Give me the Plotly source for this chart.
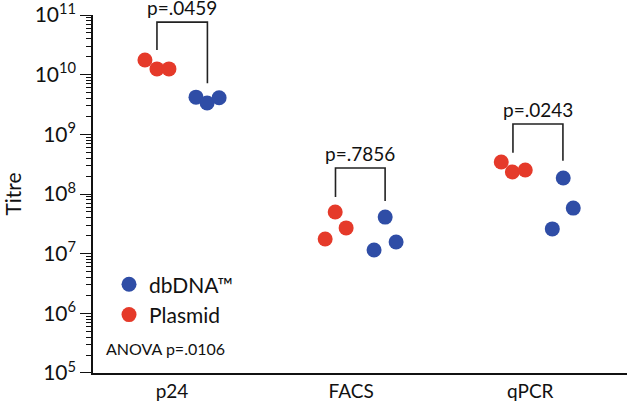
import plotly.graph_objects as go
import numpy as np

categories = ["p24", "FACS", "qPCR"]
plasmid_vals = [[1.76e10, 1.25e10, 1.25e10], [5.0e7, 2.7e7, 1.76e7], [3.44e8, 2.34e8, 2.53e8]]
dbdna_vals = [[4.2e9, 3.35e9, 4.1e9], [4.1e7, 1.57e7, 1.15e7], [1.85e8, 5.8e7, 2.6e7]]
plasmid_jitter = [[-0.151, -0.084, -0.017], [-0.089, -0.028, -0.145], [-0.162, -0.100, -0.028]]
dbdna_jitter = [[0.134, 0.196, 0.263], [0.190, 0.251, 0.128], [0.184, 0.240, 0.123]]
p_values = ["p=.0459", "p=.7856", "p=.0243"]
bracket_top = [7.6e10, 2.73e8, 1.49e9]
bracket_left = [2.6e10, 8.9e7, 4.9e8]
bracket_right = [7.2e9, 7.6e7, 3.6e8]
anova_text = "ANOVA p=.0106"
ytick_exp = [5, 6, 7, 8, 9, 10, 11]

RED = "#E53A2A"
BLUE = "#2F4DA6"
FONT = "Lato"
YRANGE = [4.9995, 11.0005]

fig = go.Figure()
px_, py_, dx_, dy_ = [], [], [], []
for i in range(len(categories)):
    for v, j in zip(plasmid_vals[i], plasmid_jitter[i]):
        px_.append(i + 1 + j); py_.append(v)
    for v, j in zip(dbdna_vals[i], dbdna_jitter[i]):
        dx_.append(i + 1 + j); dy_.append(v)

fig.add_trace(go.Scatter(x=dx_, y=dy_, mode="markers", name="dbDNA™",
                         marker=dict(color=BLUE, size=15), cliponaxis=False))
fig.add_trace(go.Scatter(x=px_, y=py_, mode="markers", name="Plasmid",
                         marker=dict(color=RED, size=15), cliponaxis=False))

for i in range(len(categories)):
    xl = i + 1 + float(np.mean(plasmid_jitter[i]))
    xr = i + 1 + float(np.mean(dbdna_jitter[i]))
    fig.add_trace(go.Scatter(x=[xl, xl, xr, xr],
                             y=[bracket_left[i], bracket_top[i], bracket_top[i], bracket_right[i]],
                             mode="lines", line=dict(color="#222222", width=1.6),
                             showlegend=False, hoverinfo="skip", cliponaxis=False))
    fig.add_annotation(x=(xl + xr) / 2, y=np.log10(bracket_top[i]), text=p_values[i],
                       showarrow=False, yanchor="bottom", yshift=1,
                       font=dict(family=FONT, size=19, color="#111111"))

fig.add_annotation(x=0.02, y=0.068, xref="paper", yref="paper", text=anova_text,
                   showarrow=False, xanchor="left", yanchor="middle",
                   font=dict(family=FONT, size=16, color="#111111"))

# invisible trace to activate the minor-tick overlay axis
fig.add_trace(go.Scatter(x=[None], y=[None], yaxis="y2", showlegend=False, hoverinfo="skip"))

minor_vals = [m * 10 ** e for e in ytick_exp[:-1] for m in range(2, 10)]

fig.update_layout(
    width=630, height=407,
    margin=dict(l=93, r=3, t=15, b=34),
    paper_bgcolor="white", plot_bgcolor="white",
    font=dict(family=FONT, size=19, color="#111111"),
    showlegend=True,
    legend=dict(x=0.03, y=0.304, xanchor="left", yanchor="top",
                font=dict(family=FONT, size=21, color="#111111"),
                bgcolor="rgba(0,0,0,0)", itemwidth=30, tracegroupgap=0),
    xaxis=dict(range=[0.559, 3.54], tickvals=[1, 2, 3], ticktext=categories,
               showline=True, linecolor="#111111", linewidth=1.5,
               ticks="", showgrid=False, zeroline=False, automargin=False,
               tickfont=dict(family=FONT, size=19)),
    yaxis=dict(type="log", range=YRANGE,
               tickvals=[10 ** e for e in ytick_exp],
               ticktext=[f"10<sup>{e}</sup>" for e in ytick_exp],
               showline=True, linecolor="#111111", linewidth=1.5,
               ticks="outside", ticklen=11, tickwidth=1.4, tickcolor="#111111",
               showgrid=False, zeroline=False, automargin=False,
               ticklabeloverflow="allow",
               tickfont=dict(family=FONT, size=21),
               title=dict(text="Titre", font=dict(family=FONT, size=21), standoff=8)),
    yaxis2=dict(type="log", range=YRANGE, overlaying="y", side="left", anchor="x",
                tickmode="array", tickvals=minor_vals, showticklabels=False,
                ticks="outside", ticklen=6, tickwidth=1.2, tickcolor="#111111",
                showgrid=False, zeroline=False, showline=False, automargin=False),
)

fig.write_html("out.html", config={"displayModeBar": False},
               post_script="document.body.style.margin='0';document.body.style.padding='0';")
